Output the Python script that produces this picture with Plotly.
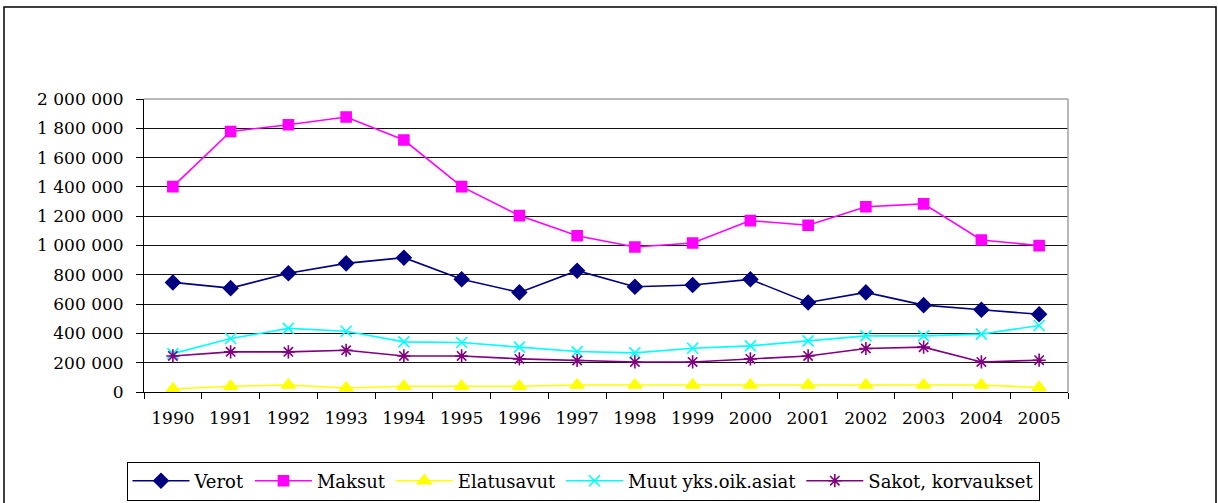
import plotly.graph_objects as go

years = [str(y) for y in range(1990, 2006)]
verot = [748000, 709000, 810000, 878000, 917000, 769000, 680000, 828000, 718000, 730000, 769000, 611000, 680000, 593000, 561000, 531000]
maksut = [1402000, 1778000, 1824000, 1877000, 1720000, 1402000, 1204000, 1067000, 990000, 1017000, 1170000, 1138000, 1265000, 1284000, 1038000, 999000]
elatusavut = [20000, 39000, 48000, 27000, 39000, 39000, 39000, 48000, 48000, 48000, 48000, 48000, 48000, 48000, 48000, 30000]
muut = [262000, 365000, 434000, 415000, 342000, 338000, 306000, 276000, 267000, 299000, 315000, 349000, 383000, 383000, 395000, 454000]
sakot = [246000, 274000, 274000, 285000, 246000, 246000, 226000, 215000, 205000, 205000, 226000, 246000, 297000, 306000, 205000, 217000]

series = [
    ("Verot", verot, "#000080", "diamond", 11),
    ("Maksut", maksut, "#FF00FF", "square", 10),
    ("Elatusavut", elatusavut, "#FFFF00", "triangle-up", 12),
    ("Muut yks.oik.asiat", muut, "#00FFFF", "x-thin-open", 11),
    ("Sakot, korvaukset", sakot, "#800080", "asterisk-open", 11),
]

fig = go.Figure()
for name, vals, color, sym, sz in series:
    fig.add_trace(go.Scatter(
        x=years, y=vals, name=name, mode="lines+markers",
        line=dict(color=color, width=1.6),
        marker=dict(symbol=sym, size=sz, color=color,
                    line=dict(color=color, width=1.6)),
    ))

font_fam = "DejaVu Serif"
L, R, T, B = 144, 150, 99, 111
W, H = 1218, 503
pw, ph = W - L - R, H - T - B

def px(x):
    return (x - L) / pw

def py(y):
    return (H - B - y) / ph

fig.update_layout(
    width=W, height=H, autosize=False,
    margin=dict(l=L, r=R, t=T, b=B),
    paper_bgcolor="white", plot_bgcolor="white",
    separators=". ",
    font=dict(family=font_fam, size=17, color="black"),
    xaxis=dict(
        type="category", tickson="boundaries", ticks="outside", ticklen=6,
        tickcolor="black", showline=True, linecolor="black", linewidth=1,
        showgrid=False, tickfont=dict(family=font_fam, size=17, color="black"),
        ticklabelstandoff=11, range=[-0.5, 15.5], fixedrange=True,
        automargin=False,
    ),
    yaxis=dict(
        range=[0, 2000000], tickvals=list(range(0, 2000001, 200000)),
        tickformat=",d", ticks="outside", ticklen=7, tickcolor="black",
        showline=True, linecolor="black", linewidth=1,
        showgrid=True, gridcolor="#111111", gridwidth=1,
        zeroline=False, tickfont=dict(family=font_fam, size=17, color="black"),
        ticklabelstandoff=9, automargin=False,
    ),
    showlegend=True,
    legend=dict(
        orientation="h", xref="container", yref="container",
        x=583 / W, xanchor="center", y=1 - 481 / H, yanchor="middle",
        bordercolor="black", borderwidth=1, bgcolor="white",
        font=dict(family=font_fam, size=18, color="black"),
        tracegroupgap=0, itemwidth=57,
    ),
    shapes=[
        dict(type="line", xref="paper", yref="paper", x0=0, x1=1, y0=1, y1=1,
             line=dict(color="#A0A0A0", width=1.5)),
        dict(type="line", xref="paper", yref="paper", x0=1, x1=1, y0=0, y1=1,
             line=dict(color="#A0A0A0", width=1.5)),
        dict(type="rect", xref="paper", yref="paper", x0=px(4), x1=px(1216),
             y0=py(520), y1=py(7), line=dict(color="black", width=1.5),
             fillcolor="rgba(0,0,0,0)", layer="below"),
    ],
)

fig.write_html("out.html", config={"displayModeBar": False},
               post_script="document.body.style.margin='0';document.body.style.overflow='hidden';")
